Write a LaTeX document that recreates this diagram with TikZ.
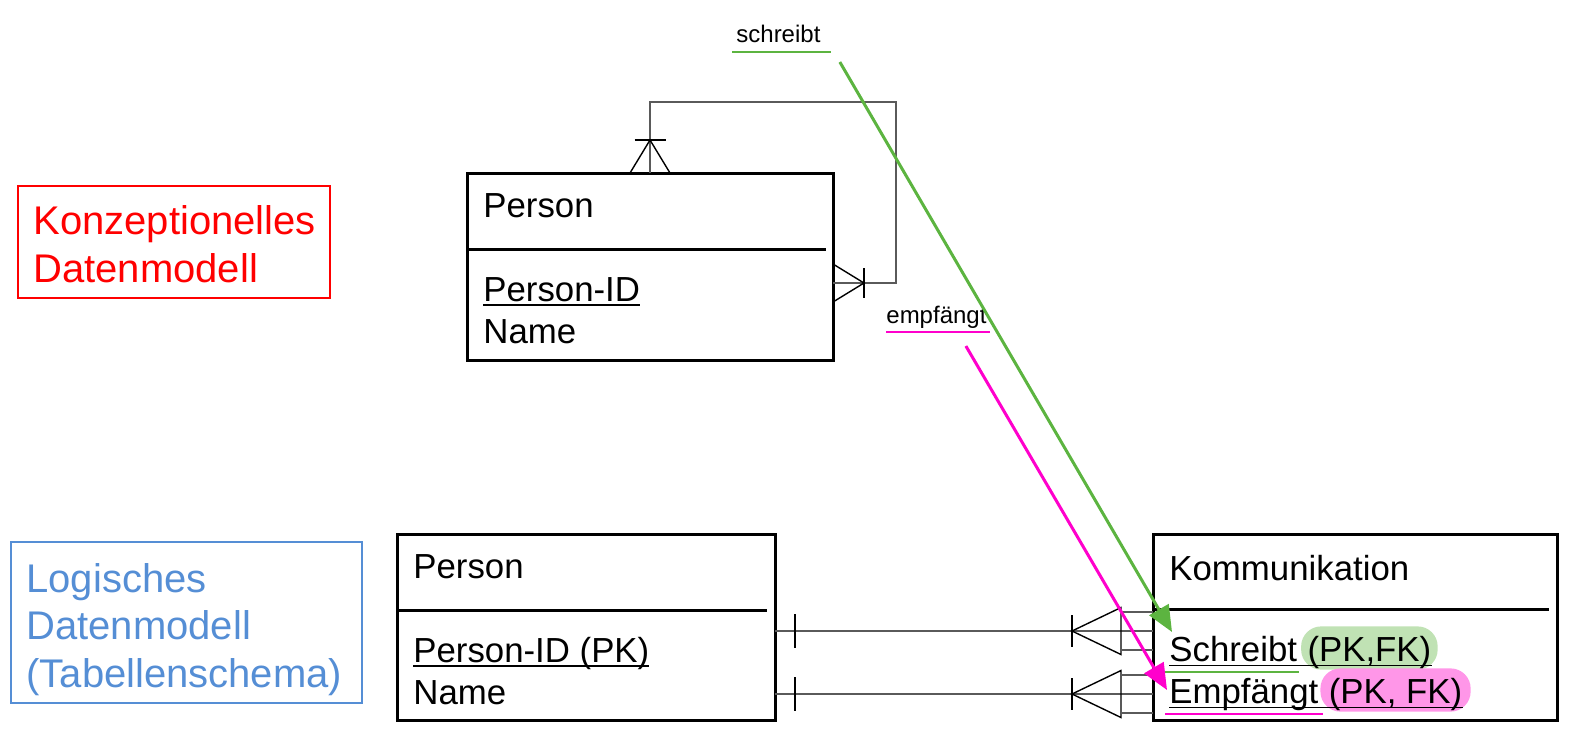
\documentclass[tikz,border=0pt]{standalone}
\usepackage{fontspec}
\setmainfont{Liberation Sans}
\usetikzlibrary{arrows.meta, calc, positioning, fit, backgrounds}
\tikzset{>=Triangle}
\definecolor{konzred}{RGB}{255,0,0}
\definecolor{logblue}{RGB}{85,142,213}
\definecolor{relgray}{RGB}{90,90,90}
\definecolor{schrgreen}{RGB}{92,180,64}
\definecolor{empfpink}{RGB}{255,0,204}
\definecolor{hlgreen}{RGB}{192,226,180}
\definecolor{hlpink}{RGB}{255,150,232}
\newcommand{\ulbox}[1]{\setbox0\hbox{#1}\rlap{\rule[-2.6pt]{\wd0}{0.9pt}}\box0}
\tikzset{
  entity/.style={rectangle, draw=black, line width=1.5pt, outer sep=0pt, inner sep=0pt},
  divider/.style={line width=1.5pt},
  field/.style={anchor=base west, inner sep=0pt, font=\fontsize{17.4pt}{21pt}\selectfont},
  modelframe/.style={rectangle, line width=0.8pt, outer sep=0pt, inner sep=0pt},
  modeltext/.style={anchor=base west, inner sep=0pt, align=left, font=\fontsize{20pt}{23.75pt}\selectfont},
  rel/.style={draw=relgray, line width=0.75pt},
  crow/.style={draw=black, line width=0.7pt},
  relname/.style={anchor=base west, inner sep=0pt, font=\fontsize{12pt}{14pt}\selectfont},
  mapping/.style={-{Triangle[length=13pt,width=11pt]}, line width=1.5pt},
  ulrule/.style={line width=0.9pt},
  colrule/.style={line width=1.3pt},
  highlight/.style={rounded corners=10pt, inner xsep=3pt, inner ysep=2.5pt}
}

\begin{document}
\begin{tikzpicture}[x=0.5pt, y=-0.5pt]
  \useasboundingbox (0,0) rectangle (1574,736);

  % Model boxes
  \node[modelframe, draw=konzred, minimum width=156pt, minimum height=56pt] (konz) at (174,242) {};
  \node[modeltext, text=konzred] (konztext) at ($(konz.north west)+(15,96)$) {Konzeptionelles\\Datenmodell};
  \node[modelframe, draw=logblue, minimum width=175.5pt, minimum height=80.5pt] (logi) at (186.5,622.5) {};
  \node[modeltext, text=logblue] (logitext) at ($(logi.north west)+(15,145)$) {Logisches\\Datenmodell\\(Tabellenschema)};

  % Person (conceptual)
  \node[entity, minimum width=183pt, minimum height=93.5pt] (pconc) at (650,266.5) {};
  \draw[divider] ($(pconc.north west)+(0,76)$) -- ($(pconc.north east)+(-7,76)$);
  \node[field] (pconctitle) at ($(pconc.north west)+(16,44)$) {Person};
  \node[field] (pconcid) at ($(pconc.north west)+(16,128)$) {\ulbox{Person-ID}};
  \node[field] (pconcname) at ($(pconc.north west)+(16,170)$) {Name};

  % Person (logical)
  \node[entity, minimum width=189pt, minimum height=93pt] (plog) at (586,627) {};
  \draw[divider] ($(plog.north west)+(0,76)$) -- ($(plog.north east)+(-8,76)$);
  \node[field] (plogtitle) at ($(plog.north west)+(16,44)$) {Person};
  \node[field] (plogid) at ($(plog.north west)+(16,128)$) {\ulbox{Person-ID (PK)}};
  \node[field] (plogname) at ($(plog.north west)+(16,170)$) {Name};

  % Kommunikation
  \node[entity, minimum width=202pt, minimum height=93pt] (komm) at (1355,627) {};
  \draw[divider] ($(komm.north west)+(0,75)$) -- ($(komm.north east)+(-8,75)$);
  \node[field] (kommtitle) at ($(komm.north west)+(16,46)$) {Kommunikation};
  \node[field] (schr) at ($(komm.north west)+(16,127)$) {\mbox{Schreibt\ }};
  \node[field] (schrpk) at (schr.base east) {(PK,FK)};
  \node[field] (empf) at ($(komm.north west)+(16,169)$) {\mbox{Empfängt\ }};
  \node[field] (empfpk) at (empf.base east) {(PK, FK)};
  \begin{scope}[on background layer]
    \node[highlight, fill=hlgreen, fit=(schrpk), yshift=2pt] (schrhl) {};
    \node[highlight, fill=hlpink, fit=(empfpk), yshift=2pt, inner xsep=4pt] (empfhl) {};
  \end{scope}
  \draw[ulrule] ($(schr.base west)+(0,4.5)$) -- ($(schrpk.base east)+(0,4.5)$);
  \draw[ulrule] ($(empf.base west)+(0,4.5)$) -- ($(empfpk.base east)+(0,4.5)$);
  \draw[colrule, draw=schrgreen] ($(schr.base west)+(-4,11)$) -- ($(schr.base east)+(-8,11)$);
  \draw[colrule, draw=empfpink] ($(empf.base west)+(-4,11)$) -- ($(empf.base east)+(-5,11)$);

  % Self relationship
  \coordinate (selfend) at ($(pconc.north east)+(0,110)$);
  \draw[rel] (pconc.north) -- ++(0,-71) -| ($(selfend)+(63,0)$) -- (selfend);
  \draw[crow] ($(pconc.north)+(-15.5,-33)$) -- ++(31,0);
  \draw[crow] ($(pconc.north)+(-20,0)$) -- ($(pconc.north)+(0,-33)$) -- ($(pconc.north)+(20,0)$);
  \draw[crow] ($(selfend)+(31,-15)$) -- ++(0,30);
  \draw[crow] ($(selfend)+(0,-19)$) -- ($(selfend)+(31,0)$) -- ($(selfend)+(0,19)$);

  % Relationships (logical)
  \foreach \ry in {631,694}{
    \coordinate (lend) at (plog.east |- 0,\ry);
    \coordinate (rend) at (komm.west |- 0,\ry);
    \draw[rel] (lend) -- (rend);
    \draw[crow] ($(lend)+(20,-17)$) -- ++(0,34);
    \draw[crow] ($(rend)+(-81,-16)$) -- ++(0,32);
    \draw[crow] ($(rend)+(-32,-23.5)$) -- ($(rend)+(-81,0)$) -- ($(rend)+(-32,23.5)$) -- cycle;
    \draw[rel] ($(rend)+(-32,-19)$) -- ++(32,0) ($(rend)+(-32,19)$) -- ++(32,0);
  }

  % Labels
  \node[relname] (lblschr) at (736,42) {schreibt};
  \draw[colrule, draw=schrgreen] ($(lblschr.base west)+(-4,10)$) -- ($(lblschr.base east)+(10,10)$);
  \node[relname] (lblempf) at (886,323) {empfängt};
  \draw[colrule, draw=empfpink] ($(lblempf.base west)+(0,9)$) -- ($(lblempf.base east)+(3,9)$);

  % Arrows
  \draw[mapping, schrgreen] ($(lblschr.base east)+(19,20)$) -- ($(schr.base west)+(3,-29)$);
  \draw[mapping, empfpink] ($(lblempf.base east)+(-21,23)$) -- ($(empf.base west)+(-2,-13)$);
\end{tikzpicture}
\end{document}
